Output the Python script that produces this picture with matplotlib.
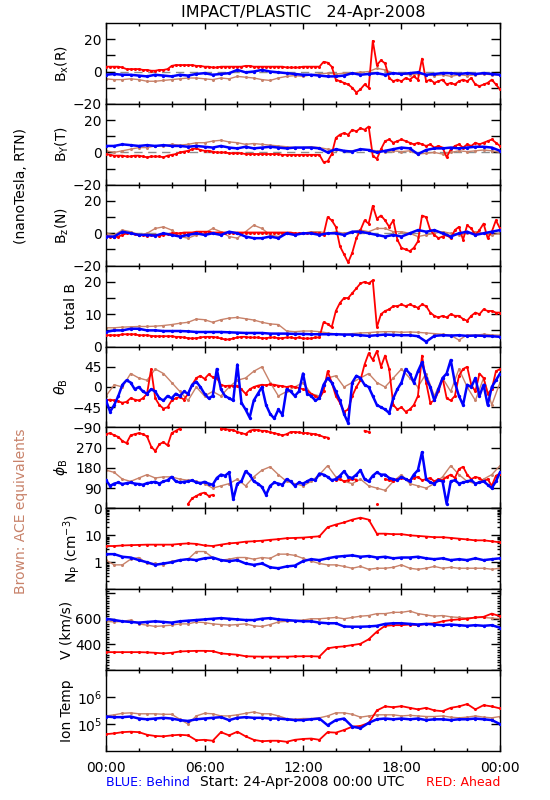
import numpy as np
import matplotlib
matplotlib.use("Agg")
import matplotlib.pyplot as plt
from matplotlib.ticker import FixedLocator, FixedFormatter, MultipleLocator, LogLocator, NullFormatter

nan = np.nan
RED = "#ff0000"
BLUE = "#0000ff"
BROWN = "#c8826a"

# ---------------- data (15-min grid for red B/theta/phi, 30-min elsewhere) ----------------
red_bx = [3, 3, 3, 3, 2.5, 1.5, 1.5, 1.5,
          1.5, 1, 1, 0.5, 0.5, 1, 1, 1.5,
          3.5, 4, 4, 4, 4, 4, 3.5, 3.5,
          3, 3, 2.5, 2.5, 3, 3, 3, 3,
          3, 3, 3.5, 3.5, 3, 3, 3, 3,
          3, 3, 3, 3, 2.5, 2.5, 2.5, 2.5,
          3, 3, 3, 3, 3, 6, 5.5, 3,
          -5, -6, -7, -8, -10, -13, -11, -8,
          -10, 19, 4, 7, 5, -4, -6, -5,
          -6, -4, -5, -3, -5, 8, -6, -5,
          -7, -6, -5, -8, -7, -8, -6, -5,
          -6, -4, -8, -9, -8, -7, -5, -8,
          -11]
blue_bx = [-2, -1.5, -2, -2, -2.5, -3, -2, -2.5,
           -3, -2, -2.5, -1.5, -1, -2, -1.5, -1,
           1, -0.5, 0, 1, 0, -0.5, -1, -1.5,
           -2, -2, -2.5, -3, -3, -2.5, -1, -2,
           -1.5, -1, -2, -1, -1.5, -1, -0.5, -2,
           -1.5, -1, -1, -1.5, -1, -1.5, -1, -1.5,
           -2]
brown_bx = [-4.5, -5, -5, -4.5, -5, -6, -6, -5.5,
            -5, -4.5, -4, -4, -4.5, -5, -4, -4.5,
            -3, -3.5, -4, -5, -5.5, -4, -3, -2.5,
            -3, -2, -1.5, -1, -1.5, -1, -1, -0.5,
            0, 2, 1, -1, -1.5, -2, -1.5, -2,
            -2.5, -2, -3, -2, -2.5, -2, -1.5, -2,
            -2]

red_by = [-1, -1.5, -2, -2, -2, -2.5, -2.5, -2,
          -2, -2.5, -3, -2.5, -2.5, -2.5, -3, -2,
          -1.5, -1, 0, 0.5, 1, 2, 2.5, 1.5,
          1, 1, 0.5, 0, 0, 0, -0.5, -0.5,
          -0.5, -0.5, -1, -1, -1, -1, -1, -1,
          -1, -1, -1, -1.5, -1.5, -1.5, -1.5, -1.5,
          -1.5, -1.5, -1.5, -1.5, -1.5, -6, -5.5, -1,
          9, 11, 12, 11, 14, 13, 15, 14,
          16, -2, -4, 2, 7, 8, 6, 7,
          8, 7, 6, 5, 6, 5, 4, 5,
          3, 4, 3, -3, 2, 4, 5, 3,
          5, 4, 6, 5, 6, 7, 8, 6,
          4]
blue_by = [4, 4, 5, 4.5, 4, 4.5, 4, 4.5,
           4, 4, 3.5, 4, 3.5, 3, 4, 3,
           2.5, 3.5, 2.5, 3, 3.5, 3, 2.5, 3,
           3, 3, 2.5, 0, 2, 1, 0.5, 2,
           1.5, 0, 1, 2, 3, 2.5, -1, 1.5,
           2.5, 2.5, 3, 2.5, 3, 3.5, 3.5, 3,
           1]
brown_by = [1, 0, 1, 2, 3, 3, 4, 4,
            5, 4.5, 5, 6, 6, 7, 7.5, 6.5,
            6, 5, 5.5, 5, 4.5, 4, 3.5, 3,
            3, 3.5, 3, 2, 1.5, 1, 1, 2,
            1.5, 1, 0.5, 1, 0.5, 1, -1, -0.5,
            0, -1, 0, 1, 0.5, 1, 1.5, 1,
            0]

red_bz = [-1.5, -2, -2.5, -2, -1, 0, 0, -0.5,
          -1, -1, -1.5, -1, -1, -1.5, -1, -0.5,
          0, 0, 0, 0.5, 0.5, 0.5, 1, 1,
          1, 1, 0.5, 0.5, 0.5, 0.5, 0.5, 0.5,
          0.5, 0.5, 0.5, 0.5, 0.5, 0.5, 0.5, 0.5,
          0.5, 0.5, 0.5, 0.5, 0.5, 0.5, 0, 0,
          0, 0, 0.5, 0, 0, -1, 10, 8,
          4, -8, -13, -18, -12, -3, 2, 8,
          6, 17, 9, 11, 8, 4, 8, -4,
          -9, -10, -11, -9, -5, 11, 10, 2,
          -1, -3, -2, -1, -3, 2, 4, -4,
          5, 3, -1, 2, 6, -3, 1, 8,
          3]
blue_bz = [-2, -2, 1, 0, -1, -1, -1.5, 0,
           -1, -2, -1, 0, -1, 0, -1, 1,
           0, -2, -3, -3, -2, -3, 0, -1,
           0, 0, -1, 0, 0, -1, 1, 1,
           0, -1, -2, -1, -2, 0, 2, 1,
           2, 0, -2, 0, 1, -1, 0, 1,
           2]
brown_bz = [0, -1, 2, 1, -1, 0, 3, 4,
            2, -2, -3, -1, 0, 3, 1, -2,
            -3, 1, 5, 3, -1, -2, 0, -1,
            0, 1, 1, 0, 1, 0, 1, 2,
            1, 3, 3, 1, 1, 0, -2, -1,
            0, 1, 0, -1, 0, 1, 0, -1,
            0]

red_bt = [3.5, 3.5, 3.5, 3.5, 3.8, 3.8, 3.8, 3.8,
          3.5, 3.5, 3.5, 3.3, 3.2, 3.2, 3.2, 3.2,
          3.2, 3, 3, 2.8, 2.6, 2.5, 2.6, 2.8,
          3, 3, 3, 2.8, 2.5, 2.2, 2.2, 2.5,
          2.8, 3, 3, 2.8, 2.8, 2.8, 2.6, 2.6,
          2.8, 2.8, 2.6, 2.6, 2.8, 2.8, 2.6, 2.8,
          2.5, 2.5, 2.5, 2.8, 2.8, 7.5, 7, 6,
          11, 13.5, 15, 15, 16.5, 18, 19.5, 20,
          19.5, 20.5, 6, 10, 11, 11.5, 12.5, 12.5,
          13, 12.5, 13, 12.5, 12, 13, 12.5, 10.5,
          9.5, 9, 9.5, 9, 10, 9.5, 9.5, 8.5,
          8, 9.5, 10.5, 10, 11.5, 11, 11, 10.5,
          10.5]
blue_bt = [4.5, 5, 5, 5.5, 5.5, 5, 5, 4.8,
           4.8, 4.8, 4.7, 4.5, 4.5, 4.5, 4.5, 4.4,
           4.3, 4.2, 4.2, 4.2, 4, 4, 4, 3.9,
           3.9, 3.8, 3.8, 3.8, 3.8, 3.7, 3.7, 3.5,
           3.3, 3.5, 3.7, 3.6, 3.5, 3.5, 3.2, 1.5,
           3.3, 3.5, 3.4, 3.5, 3.3, 3.4, 3.3, 3.2,
           3]
brown_bt = [5.8, 5.8, 6, 6.1, 6.2, 6.2, 6.3, 6.5,
            6.8, 7.2, 7.5, 8.5, 8.3, 7.5, 8.3, 8.8,
            9, 8.6, 8.2, 7.5, 7, 6.8, 4.8, 4.6,
            4.8, 4.8, 4.6, 4.2, 3.9, 3.8, 4, 4.2,
            4.3, 4.5, 4.6, 4.6, 4.4, 4.5, 4.4, 4.2,
            4, 3.8, 3.5, 2, 3.6, 3.5, 3.8, 3.6,
            3.5]

red_th = [-30, -28, -30, -32, -35, -33, -25, -28,
          -30, -25, -15, 40, -25, -40, -48, -45,
          -30, -25, -22, -28, -15, 5, 20, 25,
          18, 28, 22, 20, 5, 2, 3, 2,
          3, -5, -15, -5, 0, 3, 5, 4,
          6, 5, 3, 2, 0, 2, 0, -2,
          -5, -8, -15, -20, -25, -10, 35, 10,
          -20, -35, -55, -50, -20, 0, 15, 50,
          75, 60, 80, 45, 70, 40, -40, -50,
          -45, -55, -50, -40, -20, 70, 10, -35,
          -30, -10, 20, -25, -30, -20, 25, 40,
          45, 5, -10, 30, 20, -15, -5, 35,
          40]
blue_th = [-30, -55, -40, -20, 5, 15, 10, -5,
           0, -10, -15, -5, -10, -25, -30, -20,
           -25, -15, -20, -10, -15, 5, 12, 0,
           -15, -25, -20, 40, -5, -20, -25, -30,
           50, -35, -50, -68, -30, -15, 0, -40,
           -60, -70, -50, -62, -5, -10, -20, -10,
           30, -15, -20, -30, -25, 5, 20, 10,
           -10, -30, -60, -80, 10, 25, 20, 5,
           0, -20, -40, -45, -50, -58, -25, -5,
           10, 40, 30, 10, 35, 55, 20, 0,
           -30, -5, 20, 30, 60, 10, -20, -40,
           5, 0, 20, -20, 5, -40, 0, 15,
           30]
brown_th = [-20, 5, 0, 30, 20, 15, 40, 30,
            10, -10, -30, 0, -20, -10, -20, 0,
            15, 20, 35, 45, 10, -20, -10, 0,
            10, -15, -20, 20, 25, 0, 10, 20,
            30, 10, 0, 20, 40, 20, 0, 30,
            -20, 20, -10, 40, 0, -30, 20, -40,
            10]

red_ph = [330, 335, 325, 318, 300, 290, 325, 330,
          335, 330, 320, 275, 255, 285, 295, 280,
          335, 345, 355, nan, 20, 45, 55, 65,
          70, 55, 60, nan, 355, 352, 350, 348,
          340, 335, 330, 345, 350, 348, 345, 345,
          338, 335, 330, 325, 330, 340, 340, 338,
          335, 335, 332, 330, 325, 318, 315, nan,
          125, 130, 120, 125, 130, 128, nan, 345,
          340, nan, 20, nan, 130, 125, 120, 130,
          135, 130, 125, 135, 140, 125, 130, 135,
          120, 130, 125, 140, 150, 135, 175, 185,
          150, 130, 140, 135, 120, 130, 100, 145,
          155]
blue_ph = [125, 100, 110, 115, 108, 112, 115, 110,
           108, 105, 112, 115, 118, 110, 120, 125,
           140, 120, 115, 118, 120, 125, 115, 112,
           118, 110, 105, 135, 150, 145, 160, 40,
           110, 120, 165, 150, 120, 110, 95, 60,
           100, 115, 110, 105, 130, 120, 100, 115,
           110, 120, 130, 125, 155, 150, 140, 125,
           130, 145, 165, 140, 135, 150, 170, 130,
           120, 145, 160, 150, 150, 135, 130, 125,
           140, 130, 120, 150, 170, 250, 130, 115,
           110, 125, 120, 20, 120, 125, 110, 115,
           120, 125, 110, 115, 120, 105, 90, 120,
           160]
brown_ph = [170, 160, 130, 120, 135, 150, 135, 140,
            140, 130, 125, 120, 110, 90, 100, 110,
            130, 100, 140, 170, 185, 150, 120, 110,
            100, 120, 150, 190, 140, 120, 110, 130,
            100, 90, 80, 120, 150, 110, 100, 90,
            110, 140, 190, 150, 120, 110, 130, 150,
            190]

red_np = [4, 4, 4.2, 4.3, 4.4, 4.5, 4.5, 4.5,
          4.5, 4.8, 5, 4.8, 4.2, 4.0, 4.5, 5,
          5.3, 5.8, 6, 6.3, 6.8, 7.2, 7.8, 8,
          8.2, 8.7, 9.2, 20, 25, 30, 38, 45,
          38, 11.5, 11.5, 11, 11, 10, 9.5, 9,
          8.5, 8.5, 8, 7.5, 7, 6.5, 6.5, 6,
          5.5]
blue_np = [2, 2, 1.6, 1.5, 1.2, 1, 0.8, 0.9,
           1, 1.2, 1.3, 1.2, 1.4, 1.5, 1.2, 1.1,
           1.2, 0.9, 0.8, 0.9, 0.65, 0.6, 0.7, 0.75,
           1.1, 1.3, 1.2, 1.4, 1.6, 1.7, 1.8, 1.6,
           1.7, 1.5, 1.6, 1.4, 1.5, 1.5, 1.6, 1.4,
           1.3, 1.4, 1.2, 1.3, 1.2, 1.4, 1.2, 1.3,
           1.4]
brown_np = [1.2, 0.8, 0.8, 1.3, 1.5, 0.9, 0.9, 0.8,
            1.1, 1.2, 1.3, 2.5, 2.5, 1.5, 1.2, 1.3,
            1.5, 1.5, 1.3, 1.5, 1.4, 2, 2, 1.8,
            1.4, 1.1, 0.9, 0.8, 0.8, 0.7, 0.6, 0.7,
            0.55, 0.6, 0.6, 0.65, 0.8, 0.6, 0.55, 0.6,
            0.7, 0.6, 0.65, 0.6, 0.6, 0.6, 0.6, 0.55,
            0.6]

red_v = [340, 340, 340, 340, 340, 338, 335, 330,
         335, 345, 348, 350, 350, 348, 330, 325,
         320, 308, 306, 305, 305, 305, 305, 307,
         308, 308, 306, 370, 380, 385, 395, 405,
         440, 500, 545, 550, 550, 555, 550, 560,
         565, 580, 590, 595, 600, 610, 615, 640,
         620]
blue_v = [600, 590, 580, 575, 570, 575, 580, 575,
          570, 580, 585, 590, 595, 600, 605, 600,
          595, 590, 590, 600, 605, 595, 590, 585,
          580, 580, 570, 565, 565, 540, 538, 538,
          540, 545, 560, 565, 565, 560, 555, 560,
          555, 550, 555, 550, 545, 550, 545, 550,
          530]
brown_v = [580, 575, 580, 590, 560, 550, 540, 545,
           550, 560, 560, 575, 570, 560, 555, 550,
           555, 560, 545, 540, 555, 575, 580, 585,
           590, 600, 600, 605, 610, 600, 610, 620,
           625, 640, 640, 650, 650, 660, 640, 630,
           620, 625, 615, 610, 605, 610, 610, 605,
           600]

red_t = [4.2e4, 4.5e4, 5e4, 5.2e4, 5e4, 4e4, 3.6e4, 3.5e4,
         3.8e4, 4e4, 3.8e4, 2.5e4, 2.6e4, 2.4e4, 5e4, 3.8e4,
         5.2e4, 3.5e4, 2.6e4, 2.3e4, 2.4e4, 2.4e4, 2.2e4, 2.6e4,
         2.8e4, 2.9e4, 2.6e4, 5e4, 4.8e4, 6e4, 8e4, 8.5e4,
         1.1e5, 3.2e5, 4.5e5, 4.2e5, 4.6e5, 4e5, 3.5e5, 4e5,
         3.2e5, 3e5, 4e5, 4.5e5, 5.5e5, 3.5e5, 5e5, 4.5e5,
         3.8e5]
blue_t = [1.9e5, 1.8e5, 1.8e5, 1.9e5, 1.6e5, 1.5e5, 1.6e5, 1.7e5,
          1.6e5, 1.4e5, 1.3e5, 1.5e5, 1.6e5, 1.7e5, 1.8e5, 1.4e5,
          1.7e5, 1.8e5, 1.7e5, 1.7e5, 1.6e5, 1.6e5, 1.5e5, 1.4e5,
          1.4e5, 1.5e5, 1.6e5, 9e4, 1.4e5, 1.6e5, 8e4, 7e4,
          1.1e5, 1.5e5, 1.6e5, 1.5e5, 1.6e5, 1.5e5, 1.6e5, 1.4e5,
          1.5e5, 1.5e5, 1.4e5, 1.5e5, 1.5e5, 1.6e5, 1.5e5, 1.4e5,
          1e5]
brown_t = [2e5, 2.2e5, 2.5e5, 2.6e5, 2.4e5, 2.4e5, 2.4e5, 2.3e5,
           2.3e5, 1.5e5, 1e5, 2e5, 2.5e5, 2.4e5, 2e5, 2e5,
           2.2e5, 2.5e5, 2.8e5, 2.4e5, 2.4e5, 2e5, 1.6e5, 1.5e5,
           1.6e5, 1.6e5, 1.7e5, 2e5, 2.6e5, 2.6e5, 2.3e5, 1.8e5,
           2e5, 2.2e5, 2.2e5, 2.2e5, 2e5, 2.1e5, 2e5, 1.9e5,
           1.9e5, 2e5, 1.8e5, 1.7e5, 1.8e5, 2e5, 1.8e5, 1.7e5,
           1.9e5]

hour_labels = ["00:00", "06:00", "12:00", "18:00", "00:00"]


def tgrid(vals):
    n = len(vals)
    step = 0.25 if n > 60 else 0.5
    return np.arange(n) * step


# ---------------- figure layout ----------------
W, H = 550, 800
fig = plt.figure(figsize=(W / 100, H / 100), dpi=100)
plt.rcParams["font.family"] = ["DejaVu Sans"]
FS = 10

left_px, right_px, top_px, bot_px = 106, 500, 23, 751
ph = (bot_px - top_px) / 9.0

axes = []
for i in range(9):
    y0 = top_px + i * ph
    ax = fig.add_axes([left_px / W, 1 - (y0 + ph) / H, (right_px - left_px) / W, ph / H])
    axes.append(ax)

panels = [
    (red_bx, blue_bx, brown_bx),
    (red_by, blue_by, brown_by),
    (red_bz, blue_bz, brown_bz),
    (red_bt, blue_bt, brown_bt),
    (red_th, blue_th, brown_th),
    (red_ph, blue_ph, brown_ph),
    (red_np, blue_np, brown_np),
    (red_v, blue_v, brown_v),
    (red_t, blue_t, brown_t),
]

for ax, (r, b, br) in zip(axes, panels):
    ax.plot(tgrid(br), br, color=BROWN, lw=1.0, marker="o", ms=1.2, zorder=2)
    ax.plot(tgrid(r), r, color=RED, lw=1.3, marker="o", ms=1.2, zorder=3)
    ax.plot(tgrid(b), b, color=BLUE, lw=1.8, marker="o", ms=1.4, zorder=4)

for ax in axes[:3]:
    ax.axhline(0, color="#8c8c8c", lw=1.0, ls=(0, (6, 4)), zorder=1)

# x axis
for i, ax in enumerate(axes):
    ax.set_xlim(0, 24)
    ax.xaxis.set_major_locator(FixedLocator([0, 6, 12, 18, 24]))
    ax.xaxis.set_minor_locator(MultipleLocator(2))
    ax.tick_params(axis="x", which="major", direction="in", length=4.5, width=1,
                   top=True, bottom=True, labelsize=FS, pad=7)
    ax.tick_params(axis="x", which="minor", direction="in", length=2.5, width=1,
                   top=True, bottom=True)
    ax.tick_params(axis="y", which="major", direction="in", length=6.5, width=1,
                   left=True, right=True, labelsize=FS, pad=3)
    ax.tick_params(axis="y", which="minor", direction="in", length=2.5, width=1,
                   left=True, right=True)
    for s in ax.spines.values():
        s.set_linewidth(1.0)
    if i < 8:
        ax.set_xticklabels([])
    else:
        ax.set_xticklabels(hour_labels)


def set_ticks(ax, ticks, labels):
    ax.yaxis.set_major_locator(FixedLocator(ticks))
    ax.yaxis.set_major_formatter(FixedFormatter(labels))


for ax in axes[:3]:
    ax.set_ylim(-20, 30)
    set_ticks(ax, [-20, -10, 0, 10, 20], ["\u221220", "", "0", "", "20"])

axes[3].set_ylim(0, 25)
set_ticks(axes[3], [0, 5, 10, 15, 20], ["0", "", "10", "", "20"])

axes[4].set_ylim(-90, 90)
set_ticks(axes[4], [-90, -45, 0, 45], ["\u221290", "\u221245", "0", "45"])

axes[5].set_ylim(0, 360)
set_ticks(axes[5], [0, 90, 180, 270], ["0", "90", "180", "270"])

axes[6].set_yscale("log")
axes[6].set_ylim(0.1, 100)
set_ticks(axes[6], [0.1, 1, 10, 100], ["", "1", "10", ""])
axes[6].yaxis.set_minor_locator(LogLocator(base=10, subs=np.arange(2, 10)))
axes[6].yaxis.set_minor_formatter(NullFormatter())

axes[7].set_ylim(200, 830)
set_ticks(axes[7], [200, 400, 600, 800], ["", "400", "600", ""])
axes[7].yaxis.set_minor_locator(MultipleLocator(20))

axes[8].set_yscale("log")
axes[8].set_ylim(1e4, 1e7)
set_ticks(axes[8], [1e5, 1e6], ["10$^5$", "10$^6$"])
axes[8].yaxis.set_minor_locator(FixedLocator([]))

ylabels = [r"B$_{\rm x}$(R)", r"B$_{\rm Y}$(T)", r"B$_{\rm z}$(N)", "total B",
           r"$\theta_{\rm B}$", r"$\phi_{\rm B}$", r"N$_{\rm P}$ (cm$^{-3}$)",
           "V (km/s)", "Ion Temp"]
ylab_x = [62, 62, 62, 71, 61, 61, 72, 66, 67]
for ax, lab, xp in zip(axes, ylabels, ylab_x):
    ax.set_ylabel(lab, fontsize=FS, va="center", ha="center")
    ax.yaxis.set_label_coords((xp - left_px) / (right_px - left_px), 0.5)

# texts
fig.text(303 / W, 1 - 12 / H, "IMPACT/PLASTIC   24-Apr-2008", ha="center", va="center", fontsize=11.5)
fig.text(21 / W, 1 - 186 / H, "(nanoTesla, RTN)", rotation=90, ha="center", va="center", fontsize=FS)
fig.text(21 / W, 1 - 511 / H, "Brown: ACE equivalents", rotation=90, ha="center", va="center",
         fontsize=FS, color=BROWN)
fig.text(106 / W, 1 - 782 / H, "BLUE: Behind", ha="left", va="center", fontsize=9, color=BLUE)
fig.text(302 / W, 1 - 782 / H, "Start: 24-Apr-2008 00:00 UTC", ha="center", va="center", fontsize=FS)
fig.text(500 / W, 1 - 782 / H, "RED: Ahead", ha="right", va="center", fontsize=9, color=RED)

fig.savefig("out.png", dpi=100)
